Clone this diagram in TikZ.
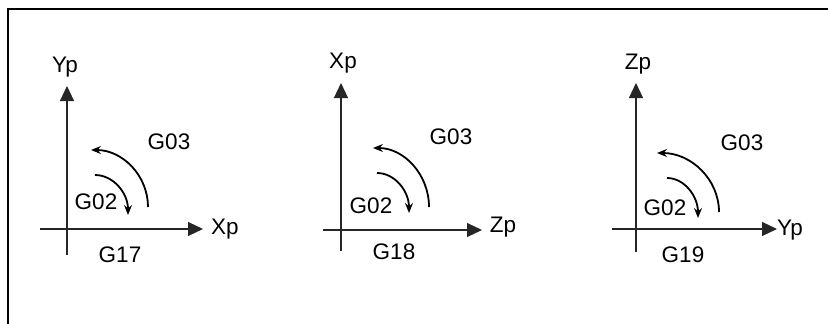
\documentclass[tikz,border=0pt]{standalone}
\usepackage{fontspec}
\setmainfont{Liberation Sans}
\usetikzlibrary{arrows.meta}
\tikzset{
  lbl/.style={inner sep=0pt, font=\fontsize{22.5}{26}\selectfont},
  axis/.style={line width=1.1pt, black!85, -{Triangle[length=15pt,width=14pt]}},
  rot/.style={line width=1.8pt, black, -{Stealth[length=10pt,width=8pt,inset=3.5pt]}},
  frame/.style={line width=2.4pt, black}
}
\begin{document}
\begin{tikzpicture}[x=1pt,y=-1pt]
\useasboundingbox (0,0) rectangle (828,324);
% frame (top and left edges)
\coordinate (fbl) at (8,326);
\coordinate (ftl) at (8,9);
\coordinate (ftr) at (830,9);
\draw[frame] (fbl) -- (ftl) -- (ftr);

% ---------- G17 ----------
\coordinate (a1b) at (67,255);
\coordinate (a1t) at (67,86);
\coordinate (a1l) at (40,229);
\coordinate (a1r) at (203,229);
\draw[axis] (a1b) -- (a1t);
\draw[axis] (a1l) -- (a1r);
\node[lbl] (y1) at (65,67) {Yp};
\node[lbl] (x1) at (225,229) {Xp};
\node[lbl] (g17) at (120,255) {G17};
\node[lbl] (g031) at (169,142) {G03};
\node[lbl] (g021) at (96,202) {G02};
\coordinate (b1s) at (148,207);
\draw[rot] (b1s) arc[start angle=0,end angle=-90,x radius=57,y radius=57];
\coordinate (s1s) at (95,175);
\draw[rot] (s1s) arc[start angle=-90,end angle=0,x radius=33,y radius=40];

% ---------- G18 ----------
\coordinate (a2b) at (341,251);
\coordinate (a2t) at (341,83);
\coordinate (a2l) at (323,230);
\coordinate (a2r) at (482,230);
\draw[axis] (a2b) -- (a2t);
\draw[axis] (a2l) -- (a2r);
\node[lbl] (x2) at (343,63) {Xp};
\node[lbl] (z2) at (503,227) {Zp};
\node[lbl] (g18) at (394,252) {G18};
\node[lbl] (g032) at (451,137) {G03};
\node[lbl] (g022) at (371,206) {G02};
\coordinate (b2s) at (429,207);
\draw[rot] (b2s) arc[start angle=0,end angle=-90,x radius=56,y radius=59];
\coordinate (s2s) at (377,173);
\draw[rot] (s2s) arc[start angle=-90,end angle=0,x radius=32,y radius=40];

% ---------- G19 ----------
\coordinate (a3b) at (636,252);
\coordinate (a3t) at (636,83);
\coordinate (a3l) at (612,229);
\coordinate (a3r) at (777,229);
\draw[axis] (a3b) -- (a3t);
\draw[axis] (a3l) -- (a3r);
\node[lbl] (z3) at (638,64) {Zp};
\node[lbl] (y3) at (790,230) {Yp};
\node[lbl] (g19) at (683,255) {G19};
\node[lbl] (g033) at (742,143) {G03};
\node[lbl] (g023) at (665,208) {G02};
\coordinate (b3s) at (719,212);
\draw[rot] (b3s) arc[start angle=0,end angle=-90,x radius=62,y radius=59];
\coordinate (s3s) at (667,178);
\draw[rot] (s3s) arc[start angle=-90,end angle=0,x radius=31,y radius=40];
\end{tikzpicture}
\end{document}
